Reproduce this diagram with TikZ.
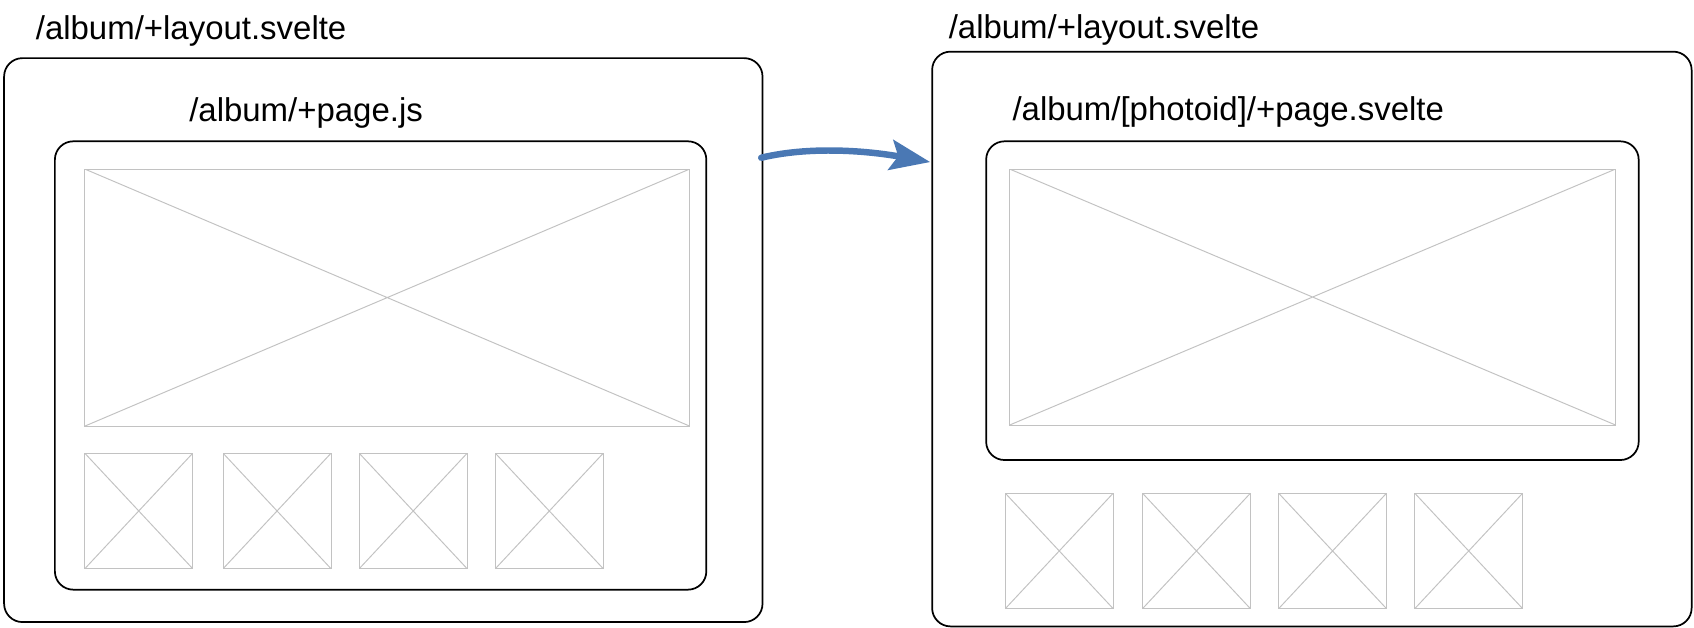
\documentclass[tikz,border=0pt]{standalone}
\usepackage{fontspec}
\setmainfont{Liberation Sans}
\usetikzlibrary{arrows.meta, positioning, calc}
\definecolor{wire}{HTML}{C2C2C2}
\definecolor{nav}{HTML}{4A78B4}

\begin{document}
\begin{tikzpicture}[
  x=1pt, y=-1pt,
  font=\fontsize{30.5}{36}\selectfont,
  frame/.style={draw=black, line width=1.6pt, rounded corners=17pt, anchor=north west, inner sep=0pt},
  slot/.style={draw=wire, line width=0.9pt, anchor=north west, inner sep=0pt,
    path picture={\draw[wire, line width=0.9pt] (path picture bounding box.north west) -- (path picture bounding box.south east)
      (path picture bounding box.south west) -- (path picture bounding box.north east);}},
  lbl/.style={anchor=west, inner sep=0pt},
  ar/.style={-{Stealth[length=37pt, width=28pt, inset=7pt]}, draw=nav, line width=6pt, line cap=round}
]
\useasboundingbox (0,0) rectangle (1568,581);

% left: album list
\node[frame, minimum width=702pt, minimum height=522pt] (lout) at (3,53) {};
\node[frame, minimum width=603pt, minimum height=415pt] (lin) at (50,130) {};
\node[slot, minimum width=560pt, minimum height=238pt] (lbig) at (78,156) {};
\foreach \x [count=\i] in {78,206,332,458}
  \node[slot, minimum width=100pt, minimum height=107pt] (ls\i) at (\x,419) {};
\node[lbl] (ltitle) at (33,28.5) {/album/+layout.svelte};
\node[lbl] (lpage) at (175,105) {/album/+page.js};

% right: single photo
\node[frame, minimum width=703pt, minimum height=532pt] (rout) at (862,47) {};
\node[frame, minimum width=604pt, minimum height=295pt] (rin) at (912,130) {};
\node[slot, minimum width=561pt, minimum height=237pt] (rbig) at (934,156) {};
\foreach \x [count=\i] in {930,1057,1183,1309}
  \node[slot, minimum width=100pt, minimum height=107pt] (rs\i) at (\x,456) {};
\node[lbl] (rtitle) at (878,28) {/album/+layout.svelte};
\node[lbl] (rpage) at (937,104) {/album/[photoid]/+page.svelte};

\draw[ar] ($(lout.north east)+(-2,93)$) .. controls +(50,-12) and +(-50,-9) .. ($(rout.north west)+(-1,103)$);
\end{tikzpicture}
\end{document}
